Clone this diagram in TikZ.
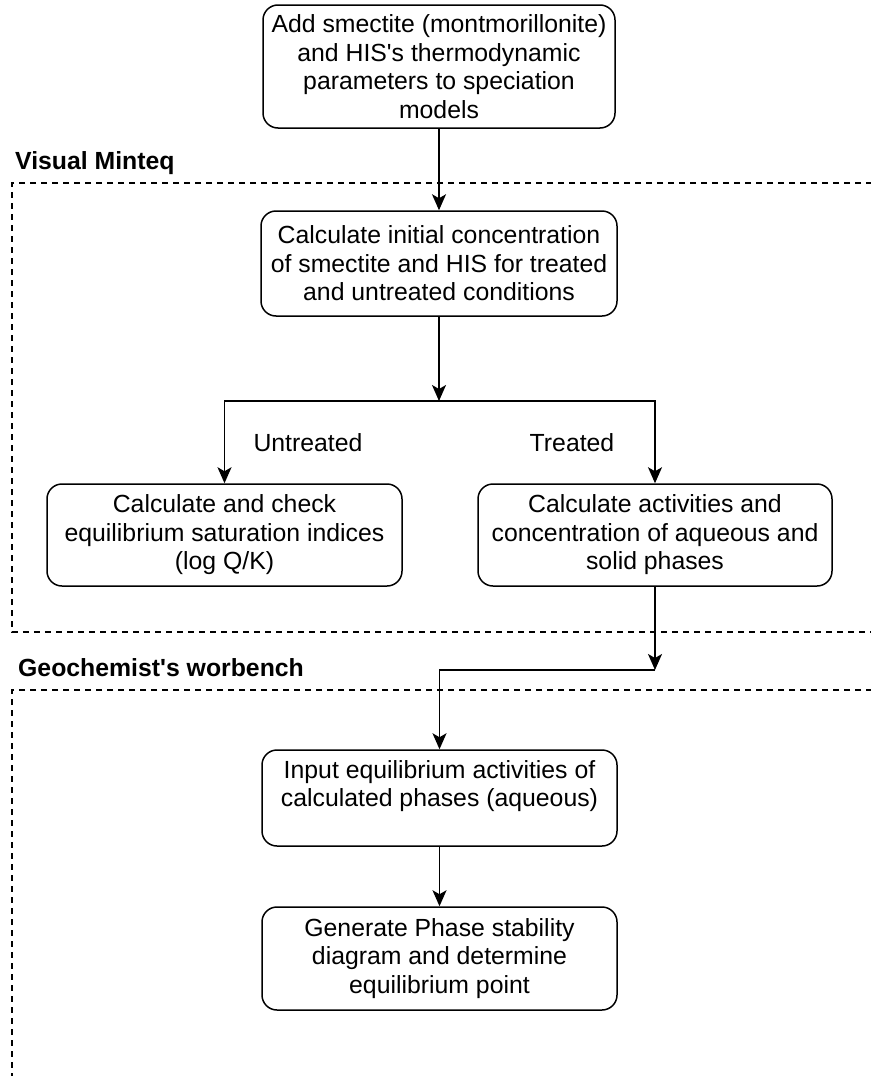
\documentclass[tikz,border=0pt]{standalone}
\usepackage{fontspec}
\setmainfont{Liberation Sans}[Ligatures=TeXOff]
\usetikzlibrary{arrows.meta}
\begin{document}
\begin{tikzpicture}[x=1pt,y=-1pt,
  every node/.style={font=\fontsize{24.8}{28.5}\selectfont},
  box/.style={draw, line width=1.5pt, rounded corners=15pt, align=center, inner sep=0pt},
  conn/.style={line width=1.5pt, -{Stealth[length=16pt,width=14pt,inset=4pt]}},
  region/.style={line width=1.4pt, dash pattern=on 6pt off 5pt},
  title/.style={font=\fontsize{24.8}{28.5}\selectfont\bfseries, anchor=west, inner sep=0pt},
  lbl/.style={inner sep=0pt}]
\useasboundingbox (0,0) rectangle (870,1076);
% regions
\draw[region] (872,183) -- (12,183) -- (12,632) -- (872,632);
\draw[region] (872,690) -- (12,690) -- (12,1078);
\node[title] (vm) at (15,163) {Visual Minteq};
\node[title] (gw) at (18,668) {Geochemist's worbench};
% boxes
\node[box, minimum width=352pt, minimum height=123pt] (b1) at (439,66.5)
  {Add smectite (montmorillonite)\\and HIS's thermodynamic\\parameters to speciation\\models};
\node[box, minimum width=356pt, minimum height=105pt] (b2) at (439,263.5)
  {Calculate initial concentration\\of smectite and HIS for treated\\and untreated conditions};
\node[box, minimum width=355pt, minimum height=102pt] (b3) at (224.5,535)
  {Calculate and check\\equilibrium saturation indices\\(log Q/K)};
\node[box, minimum width=354pt, minimum height=102pt] (b4) at (655,535)
  {Calculate activities and\\concentration of aqueous and\\solid phases};
\node[box, minimum width=355pt, minimum height=96pt] (b5) at (439.5,798)
  {Input equilibrium activities of\\calculated phases (aqueous)\\\mbox{}};
\node[box, minimum width=355pt, minimum height=103pt] (b6) at (439.5,958.5)
  {Generate Phase stability\\diagram and determine\\equilibrium point};
% labels
\node[lbl] (lu) at (308,443) {Untreated};
\node[lbl] (lt) at (572,443) {Treated};
% connectors
\coordinate (split) at (439,401);
\coordinate (bend) at (655,670);
\draw[conn] (b1) -- (b2);
\draw[conn] (b2) -- (split);
\draw[conn] (split) -| (b3.north);
\draw[conn] (split) -| (b4.north);
\draw[conn] (b4) -- (bend);
\draw[conn] (bend) -| (b5.north);
\draw[conn] (b5) -- (b6);
\end{tikzpicture}
\end{document}
